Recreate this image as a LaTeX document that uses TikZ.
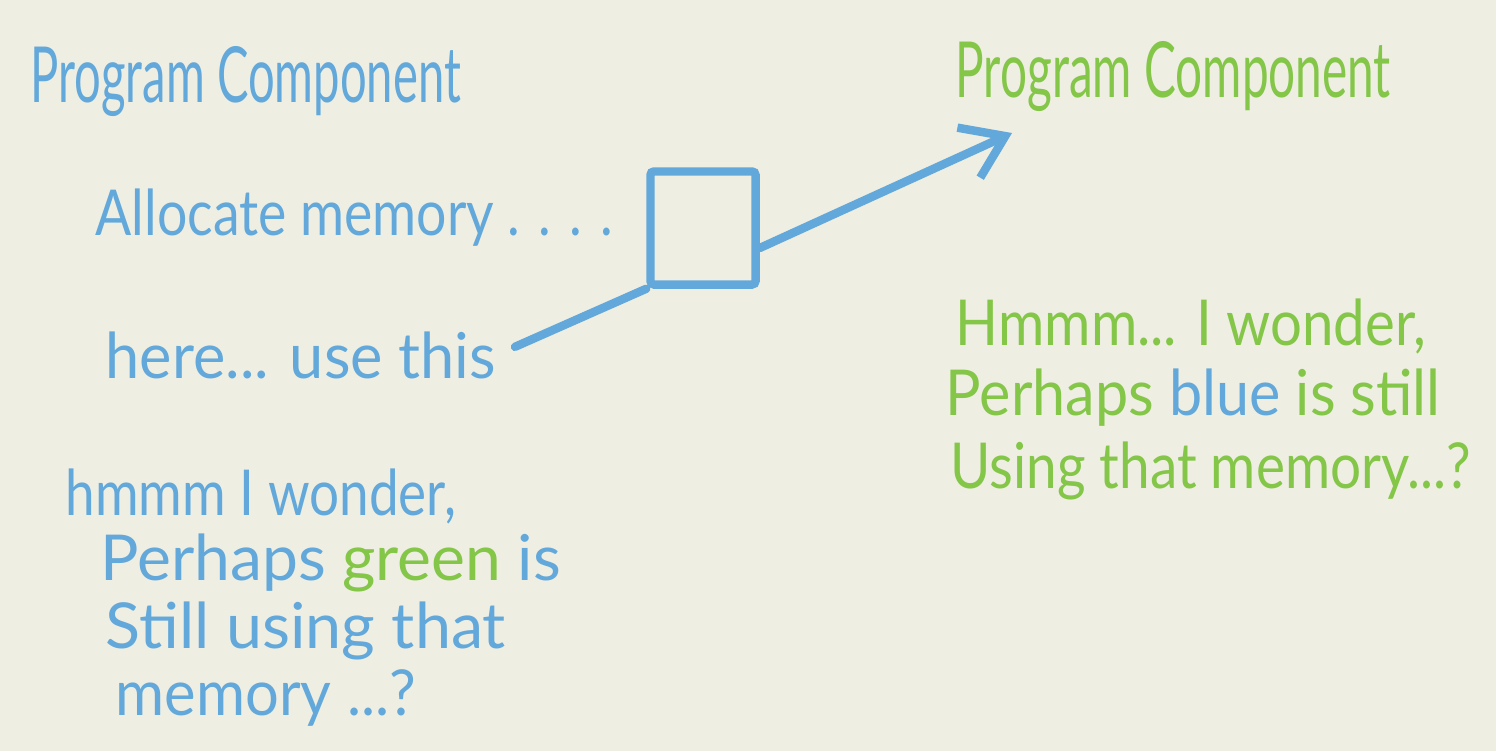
\documentclass[tikz,border=0pt]{standalone}
\usepackage{fontspec}
\setmainfont{Lato}
\usepackage{graphicx}
\usepackage{xcolor}
\usepackage{tikz}
\usetikzlibrary{arrows.meta}

\definecolor{board}{RGB}{238,238,227}
\definecolor{penblue}{RGB}{98,168,218}
\definecolor{pengreen}{RGB}{132,198,72}
\newcommand{\scrawl}[2]{\resizebox{#1}{\height}{#2}}

\begin{document}
\begin{tikzpicture}[x=0.01cm, y=-0.01cm,
    every node/.style={font=\fontsize{18}{20}\selectfont},
    note/.style={anchor=base west, inner sep=0pt},
    bnote/.style={note, text=penblue},
    gnote/.style={note, text=pengreen},
    title/.style={font=\fontsize{22}{24}\selectfont},
    marker/.style={penblue, line width=2.4pt, line cap=round, line join=round}]

% Board
\fill[board] (0,0) rectangle (1496,751);

% Blue component (left)
\node[bnote, title] (bTitle) at (30,102) {\scrawl{4.3cm}{Program Component}};
\node[bnote] (bAlloc) at (95,235) {\scrawl{5.17cm}{Allocate memory . . . .}};
\node[bnote] (bUse) at (105,378) {\scrawl{3.9cm}{here... use this}};
\node[bnote] (bHmm) at (65,515) {\scrawl{3.9cm}{hmmm I wonder,}};
\node[bnote] (bPerhaps) at (100,580) {\scrawl{4.6cm}{Perhaps \textcolor{pengreen}{green} is}};
\node[bnote] (bStill) at (105,648) {\scrawl{4.0cm}{Still using that}};
\node[bnote] (bMemory) at (115,715) {\scrawl{3.0cm}{memory ...?}};

% Memory cell
\node[draw=penblue, line width=2.4pt, rounded corners=1pt, inner sep=0pt,
      minimum width=1.05cm, minimum height=1.13cm] (cell) at (703,228) {};

% Green component (right)
\node[gnote, title] (gTitle) at (955,97) {\scrawl{4.35cm}{Program Component}};
\node[gnote] (gHmm) at (955,345) {\scrawl{4.7cm}{Hmmm... I wonder,}};
\node[gnote] (gPerhaps) at (945,415) {\scrawl{4.95cm}{Perhaps \textcolor{penblue}{blue} is still}};
\node[gnote] (gUsing) at (950,488) {\scrawl{5.2cm}{Using that memory...?}};

% Connectors
\coordinate (target) at (1012,133);
\draw[marker, shorten <=0.2cm] (bUse.east) -- (cell.south west);
\draw[marker, -{Straight Barb[length=0.4cm, width=0.55cm, line width=2.4pt]}]
    ([yshift=-0.2cm]cell.east) -- (target);

\end{tikzpicture}
\end{document}
